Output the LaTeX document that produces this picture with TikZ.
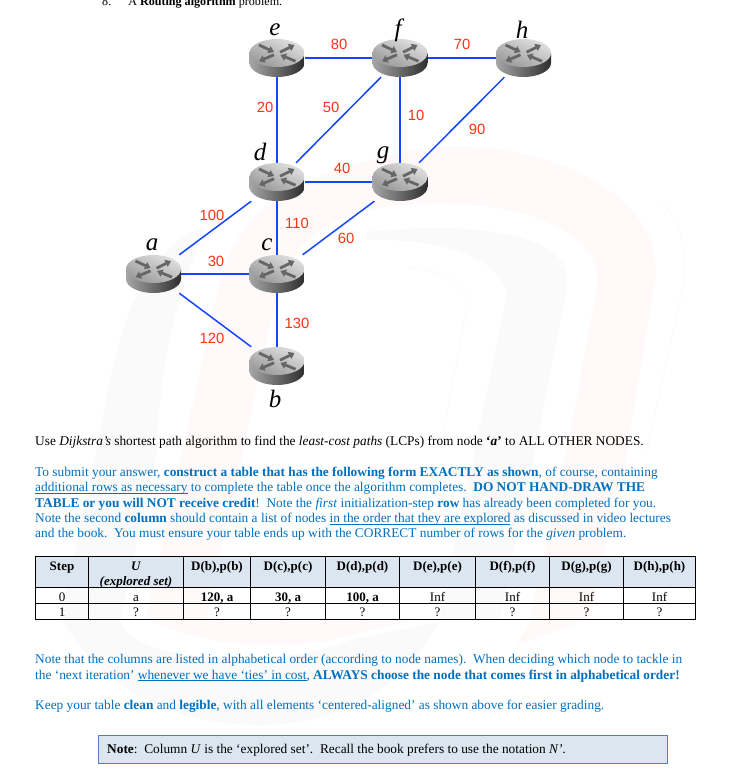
\documentclass[tikz,border=0pt]{standalone}
\usepackage{fontspec}
\setmainfont{Liberation Serif}
\newfontfamily\costfont{Liberation Sans}
\usepackage{xcolor}
\usetikzlibrary{arrows.meta, positioning}
\definecolor{linkblue}{RGB}{20,70,255}
\definecolor{costred}{RGB}{255,50,20}
\definecolor{textblue}{RGB}{0,112,192}
\definecolor{headfill}{RGB}{220,230,241}
\definecolor{noteline}{RGB}{79,129,189}
\definecolor{markpink}{RGB}{255,250,249}
\definecolor{markgray}{RGB}{250,250,250}
\newsavebox\ulinebox
\newcommand{\undertext}[1]{\sbox\ulinebox{#1}\rlap{\usebox\ulinebox}\rule[-1.8pt]{\wd\ulinebox}{0.8pt}}

\begin{document}
\begin{tikzpicture}[
                        x=1pt, y=-1pt,
                        router/.style = {minimum width=55pt, minimum height=38pt, inner sep=0pt,
                                    path picture={
                                    \begin{scope}[shift={(path picture bounding box.center)}]
                                    \shade[left color=black!35, right color=black!82]
                                          (-27.5,-5) -- (-27.5,5) arc[start angle=180, end angle=360, x radius=27.5pt, y radius=14pt]
                                          -- (27.5,-5) -- cycle;
                                    \shade[shading=axis, left color=black!12, right color=black!40, shading angle=-25]
                                          (0,-5) ellipse[x radius=27.5pt, y radius=14pt];
                                    \draw[arw] (-18,-13) -- (-3,-6);
                                    \draw[arw] (3,-5.8) -- (17.5,-13);
                                    \draw[arw] (-3,-3.2) -- (-18,3.2);
                                    \draw[arw] (18.5,3.2) -- (3.5,-3);
                                    \end{scope}}},
                        arw/.style    = {line width=2.8pt, black!60, -{Triangle[length=5.5pt, width=7.5pt]}},
                        link/.style   = {linkblue, line width=1.5pt},
                        cost/.style   = {costred, font=\costfont\fontsize{14.8}{16}\selectfont, inner sep=0pt},
                        letter/.style = {font=\fontsize{25}{28}\selectfont\itshape, inner sep=0pt},
                        para/.style   = {anchor=base west, inner sep=0pt, font=\fontsize{13.35}{15}\selectfont},
                        blue para/.style = {para, textblue},
                        cell/.style   = {anchor=base, inner sep=0pt, font=\fontsize{13}{15}\selectfont},
                        head/.style   = {cell, font=\fontsize{13}{15}\selectfont\bfseries},
                        rule/.style   = {black, line width=0.9pt}
                  ]
                  \useasboundingbox (0,0) rectangle (745,782);
                  \clip (0,0) rectangle (745,782);
                  \fill[white] (0,0) rectangle (745,782);

                  \fill[markgray] (60,620) -- (97,450) .. controls (112,370) and (125,260) .. (200,228)
                        .. controls (215,222) and (160,300) .. (157,450) -- (120,620) -- cycle;
                  \fill[markgray] (439,620) -- (475,450) -- (506,300) .. controls (512,265) and (450,237) .. (367,240)
                        -- (367,232) .. controls (480,220) and (575,235) .. (567,287) -- (535,450) -- (499,620) -- cycle;
                  \fill[markpink] (146,618) -- (183,450) -- (217,293) .. controls (235,205) and (300,170) .. (433,147)
                        .. controls (540,140) and (665,190) .. (655,280) -- (627,450) -- (590,618) -- (530,618) -- (567,450) -- (597,287)
                        .. controls (605,225) and (500,195) .. (400,205)
                        .. controls (330,212) and (290,240) .. (277,293) -- (243,450) -- (206,618) -- cycle;
                  \fill[markgray] (62,620) .. controls (110,700) and (190,725) .. (260,725)
                        .. controls (340,725) and (400,690) .. (439,622) -- (350,640)
                        .. controls (280,670) and (130,665) .. (120,620) -- cycle;
                  \fill[markpink] (146,618) .. controls (205,650) and (300,650) .. (350,635) -- (420,618) -- cycle;
                  \fill[markpink] (517,645) -- (533,615) -- (590,618) -- cycle;
                  \draw[markgray, line width=0.6pt] (440,450) -- (467,307) .. controls (470,285) and (440,268) .. (407,268);
                  \draw[markgray, line width=0.6pt] (647,450) -- (683,287) .. controls (688,250) and (680,215) .. (657,200);

                  \node[para, font=\fontsize{12.1}{15}\selectfont] (title) at (102,5)
                        {8.\hspace{17pt}A \textbf{Routing algorithm} problem.};

                  \node[router] (e) at (277,58)  {};
                  \node[router] (f) at (400,58)  {};
                  \node[router] (h) at (523.5,58)  {};
                  \node[router] (d) at (277,182) {};
                  \node[router] (g) at (400,182) {};
                  \node[router] (a) at (153.5,274) {};
                  \node[router] (c) at (277,274) {};
                  \node[router] (b) at (277,366) {};

                  \draw[link] (e) -- (f);
                  \draw[link] (f) -- (h);
                  \draw[link] (e) -- (d);
                  \draw[link] (d) -- (f);
                  \draw[link] (f) -- (g);
                  \draw[link] (g) -- (h);
                  \draw[link] (d) -- (g);
                  \draw[link] (a) -- (d);
                  \draw[link] (d) -- (c);
                  \draw[link] (c) -- (g);
                  \draw[link] (a) -- (c);
                  \draw[link] (a) -- (b);
                  \draw[link] (c) -- (b);

                  \node[letter] (name e) at (275,29.5)  {e};
                  \node[letter] (name f) at (398,30)  {f};
                  \node[letter] (name h) at (522,29.5)  {h};
                  \node[letter] (name d) at (260,152) {d};
                  \node[letter] (name g) at (383,155.5) {g};
                  \node[letter] (name a) at (152,245) {a};
                  \node[letter] (name c) at (267,245) {c};
                  \node[letter] (name b) at (275,398.5) {b};

                  \node[cost] (ef) at (339,44)  {80};
                  \node[cost] (fh) at (462,44)  {70};
                  \node[cost] (ed) at (265,107) {20};
                  \node[cost] (df) at (331,107) {50};
                  \node[cost] (fg) at (416,115) {10};
                  \node[cost] (gh) at (477,129) {90};
                  \node[cost] (dg) at (342,168) {40};
                  \node[cost] (ad) at (212,215) {100};
                  \node[cost] (dc) at (297,223) {110};
                  \node[cost] (cg) at (346,238) {60};
                  \node[cost] (ac) at (216,261) {30};
                  \node[cost] (cb) at (297,323) {130};
                  \node[cost] (ab) at (212,338) {120};

                  \node[para] (use) at (35,445)
                        {Use \textit{Dijkstra’s} shortest path algorithm to find the \textit{least-cost paths} (LCPs) from node \textbf{‘\textit{a}’} to ALL OTHER NODES.};
                  \node[blue para] (form1) at (35,476.5)
                        {To submit your answer, \textbf{construct a table that has the following form EXACTLY as shown}, of course, containing};
                  \node[blue para] (form2) at (35,491.5)
                        {\undertext{additional rows as necessary} to complete the table once the algorithm completes.\ \ \textbf{DO NOT HAND-DRAW THE}};
                  \node[blue para] (form3) at (35,507)
                        {\textbf{TABLE or you will NOT receive credit}!\ \ Note the \textit{first} initialization-step \textbf{row} has already been completed for you.};
                  \node[blue para] (form4) at (35,522.5)
                        {Note the second \textbf{column} should contain a list of nodes \undertext{in the order that they are explored} as discussed in video lectures};
                  \node[blue para] (form5) at (35,537.5)
                        {and the book.\ \ You must ensure your table ends up with the CORRECT number of rows for the \textit{given} problem.};

                  \fill[headfill] (35.5,556) rectangle (695.5,587.5);
                  \draw[rule] (35.5,556) rectangle (695.5,619.5);
                  \draw[rule] (35.5,587.5) -- (695.5,587.5);
                  \draw[rule] (35.5,603.5) -- (695.5,603.5);
                  \foreach \linex in {88.5,183.5,250.5,325.5,399.5,475.5,549.5,623.5}
                        \draw[rule] (\linex,556) -- (\linex,619.5);

                  \node[head] (step) at (62,570)    {Step};
                  \node[head] (u)    at (136,570)   {\textit{U}};
                  \node[head] (uset) at (136,585)   {\textit{(explored set)}};
                  \foreach \colx/\letr in {217/b, 288/c, 362.5/d, 437.5/e, 512.5/f, 586.5/g, 659.5/h}
                  {
                        \node[head] (head \letr) at (\colx,570) {D(\letr),p(\letr)};
                        \node[cell] (ask \letr) at (\colx,616.5) {?};
                  }
                  \node[cell] (step0) at (62,601)  {0};
                  \node[cell] (u0)    at (136,601) {a};
                  \node[head] (b0) at (217,601)    {120, a};
                  \node[head] (c0) at (288,601)    {30, a};
                  \node[head] (d0) at (362.5,601)  {100, a};
                  \node[cell] (e0) at (437.5,601)  {Inf};
                  \node[cell] (f0) at (512.5,601)  {Inf};
                  \node[cell] (g0) at (586.5,601)  {Inf};
                  \node[cell] (h0) at (659.5,601)  {Inf};
                  \node[cell] (step1) at (62,616.5)  {1};
                  \node[cell] (u1)    at (136,616.5) {?};

                  \node[blue para] (alpha1) at (35,663.5)
                        {Note that the columns are listed in alphabetical order (according to node names).\ \ When deciding which node to tackle in};
                  \node[blue para] (alpha2) at (35,679)
                        {the ‘next iteration’ \undertext{whenever we have ‘ties’ in cost}, \textbf{ALWAYS choose the node that comes first in alphabetical order!}};
                  \node[blue para] (keep) at (35,709)
                        {Keep your table \textbf{clean} and \textbf{legible}, with all elements ‘centered-aligned’ as shown above for easier grading.};

                  \draw[noteline, fill=headfill, line width=0.8pt] (98.5,735.5) rectangle (667.5,763.5);
                  \node[para] (note) at (107,753.5)
                        {\textbf{Note}:\ \ Column \textit{U} is the ‘explored set’.\ \ Recall the book prefers to use the notation \textit{N’}.};
            \end{tikzpicture}
\end{document}
